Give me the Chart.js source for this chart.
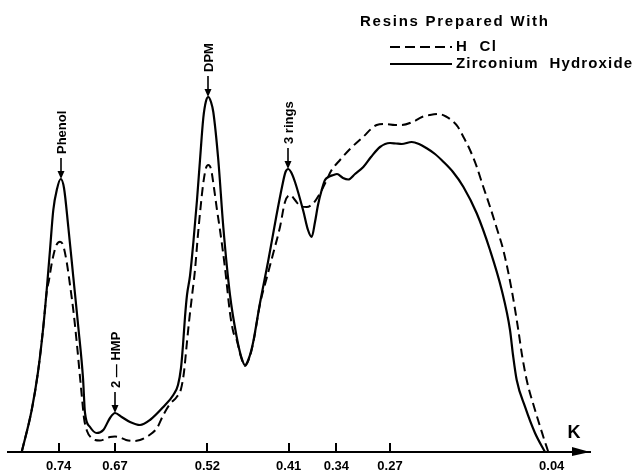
<!DOCTYPE html>
<html>
<head>
<meta charset="utf-8">
<title>Resins prepared with HCl / Zirconium Hydroxide</title>
<script src="https://cdn.jsdelivr.net/npm/chart.js@4.4.1/dist/chart.umd.min.js"></script>
<style>
  html, body { margin: 0; padding: 0; background: #fff; }
  canvas { display: block; }
</style>
</head>
<body>
<canvas id="chromChart" width="635" height="471"></canvas>
<script>
// Elution position along the column (arbitrary units) and K tick labels
const kTickPos = [50.7, 107, 199.3, 280.7, 328.3, 382, 543.7];
const kTickLabels = ['0.74', '0.67', '0.52', '0.41', '0.34', '0.27', '0.04'];
const kTickMarks = [true, true, true, true, true, true, false];

// Zirconium Hydroxide resin (solid line)
const zrPos = [13.7, 23.7, 30, 35.3, 38.7, 42, 45.3, 49, 52.7, 56, 60.3, 65.3, 70.3, 75, 77, 82, 88.7, 95.3,
  102, 107, 113.7, 122, 132, 142, 155.3, 165.3, 170, 173, 175, 177, 179, 182, 185.3, 189, 192, 195.3, 198,
  200.3, 203, 205.3, 210.3, 215.3, 222, 228.7, 233, 237, 241, 245, 252, 260, 268, 274, 277.5, 280.3, 283,
  287, 295.3, 300, 303.7, 307, 310, 313.7, 317, 320.3, 325.3, 329, 335, 340.3, 347, 355.3, 363, 372, 382,
  388, 393.7, 403.7, 411, 418.7, 427, 435.3, 445, 455.3, 468.7, 482, 493.7, 502, 505, 508.7, 517, 527, 537];
const zrResponse = [0, 42, 80, 125, 162, 202, 242, 263, 273, 264, 225, 175, 125, 74, 39, 25, 19, 22,
  34, 39, 35, 30, 27, 32, 45, 57, 67, 84, 107, 135, 157, 176, 209, 252, 292, 334, 351,
  355, 350, 340, 292, 225, 157, 115, 96, 87, 94, 109, 149, 190, 234, 265, 280, 283, 280,
  270, 241, 222, 215, 230, 247, 262, 272, 275, 277, 278, 274, 272.5, 278, 285, 295, 305, 309,
  308.5, 308, 310, 308, 303.7, 298, 290.3, 280, 265.3, 238.7, 202, 162, 122, 97, 72, 45.3, 19, 0];

// HCl resin (dashed line)
const hclPos = [13.7, 23.7, 30, 35.3, 38.7, 41, 44, 48, 52, 55, 58.7, 62, 65.3, 69, 72, 74, 76, 79, 83, 87,
  92, 97, 102, 107, 112, 118, 125, 132, 140, 149, 155.3, 162, 168.7, 173, 176, 178.5, 181, 184, 187, 189.5,
  192, 195.3, 198, 200.3, 203, 206, 209, 212, 217, 222, 225.3, 228.7, 233, 237, 241, 245, 252, 258.7, 265.3,
  272, 277, 282, 287, 292, 298.7, 305.3, 312, 318.7, 323, 332, 342, 355, 368.7, 377, 387, 393.7, 405.3, 414,
  422, 430.3, 438, 445.3, 450, 455.3, 462, 468.7, 475, 482, 489, 495.3, 503.7, 510.3, 514, 518.7, 527, 535.3, 540.3];
const hclResponse = [0, 42, 80, 125, 160, 172, 190, 206, 210.3, 207, 190, 167, 142, 107, 75, 54, 34, 21, 14.5, 12,
  11.5, 13, 15, 15.5, 14.5, 12, 11, 12, 16, 24, 37, 48, 55, 63, 80, 105, 130, 156, 182, 212,
  239, 269, 284, 287, 283, 264, 242, 222, 184, 139, 120, 112, 95, 86, 93, 108, 148, 174, 199,
  225, 250, 257, 252, 246, 245, 248.7, 258.7, 272, 281, 292, 303, 315, 327, 328, 327, 327, 330.3, 335,
  337, 338, 335.5, 330.3, 325, 315.3, 302, 285.3, 266, 245.3, 223, 202, 162, 122, 97, 72, 42, 15.3, 0];

// Peak annotations
const peakNames = ['Phenol', '2 \u2014 HMP', 'DPM', '3 rings'];
const peakPos = [52.7, 107, 200.3, 280.3];
const peakTop = [273, 39, 355, 283];

const seriesNames = ['H  Cl', 'Zirconium  Hydroxide'];
const legendTitle = 'Resins Prepared With';

const FONT = "'Liberation Sans', Arial, sans-serif";

const toPoints = (xs, ys) => xs.map((x, i) => ({ x: x, y: ys[i] }));

// texto con espaciado para llegar al ancho del original
function spacedText(ctx, text, x, y, width) {
    ctx.letterSpacing = '0px';
    const w = ctx.measureText(text).width;
    const extra = Math.max(0, (width - w) / (text.length - 1));
    ctx.letterSpacing = extra.toFixed(2) + 'px';
    ctx.fillText(text, x, y);
    ctx.letterSpacing = '0px';
}

// Ejes, flechas y leyenda dibujados sobre las escalas de Chart.js
const decorPlugin = {
    id: 'decor',
    afterDraw(chart) {
        const ctx = chart.ctx;
        const xs = chart.scales.x;
        const ys = chart.scales.y;
        const base = chart.chartArea.bottom;
        ctx.save();
        ctx.strokeStyle = '#000';
        ctx.fillStyle = '#000';

        // tick marks pointing up into the plot
        ctx.lineWidth = 2;
        kTickPos.forEach((v, i) => {
            if (!kTickMarks[i]) return;
            const px = Math.round(xs.getPixelForValue(v));
            ctx.beginPath();
            ctx.moveTo(px, base);
            ctx.lineTo(px, base - 9);
            ctx.stroke();
        });

        // arrow head at the end of the axis
        const right = chart.chartArea.right;
        ctx.beginPath();
        ctx.moveTo(right - 18, base - 5);
        ctx.lineTo(right, base);
        ctx.lineTo(right - 18, base + 4);
        ctx.closePath();
        ctx.fill();

        ctx.font = 'bold 18px ' + FONT;
        ctx.textAlign = 'center';
        ctx.textBaseline = 'middle';
        ctx.fillText('K', right - 16, base - 19);

        // peak labels with arrows
        ctx.font = 'bold 13px ' + FONT;
        peakNames.forEach((name, i) => {
            const px = Math.round(xs.getPixelForValue(peakPos[i]));
            const tip = ys.getPixelForValue(peakTop[i]);
            ctx.lineWidth = 1.6;
            ctx.beginPath();
            ctx.moveTo(px, tip - 21);
            ctx.lineTo(px, tip - 2);
            ctx.stroke();
            ctx.beginPath();
            ctx.moveTo(px - 3.5, tip - 8);
            ctx.lineTo(px, tip);
            ctx.lineTo(px + 3.5, tip - 8);
            ctx.closePath();
            ctx.fill();
            ctx.save();
            ctx.translate(px, tip - 25);
            ctx.rotate(-Math.PI / 2);
            ctx.textAlign = 'left';
            ctx.textBaseline = 'middle';
            ctx.fillText(name, 0, 1);
            ctx.restore();
        });

        // legend
        ctx.font = 'bold 15px ' + FONT;
        ctx.textAlign = 'left';
        ctx.textBaseline = 'middle';
        spacedText(ctx, legendTitle, 360, 22, 188);
        const rows = [47, 64];
        const widths = [40, 176];
        chart.data.datasets.forEach((ds, i) => {
            ctx.lineWidth = 2;
            ctx.setLineDash(ds.borderDash && ds.borderDash.length ? [10, 5] : []);
            ctx.beginPath();
            ctx.moveTo(390, rows[i]);
            ctx.lineTo(452, rows[i]);
            ctx.stroke();
            ctx.setLineDash([]);
            spacedText(ctx, seriesNames[i], 456, rows[i], widths[i]);
        });
        ctx.restore();
    }
};

const chromChart = new Chart(document.getElementById('chromChart'), {
    type: 'line',
    data: {
        datasets: [{
            label: seriesNames[0],
            data: toPoints(hclPos, hclResponse),
            borderColor: '#000',
            borderWidth: 2,
            borderDash: [9, 5],
            pointRadius: 0,
            cubicInterpolationMode: 'monotone',
            fill: false
        }, {
            label: seriesNames[1],
            data: toPoints(zrPos, zrResponse),
            borderColor: '#000',
            borderWidth: 2.2,
            pointRadius: 0,
            cubicInterpolationMode: 'monotone',
            fill: false
        }]
    },
    options: {
        responsive: false,
        animation: false,
        devicePixelRatio: 1,
        layout: {
            padding: { left: 8, right: 45, top: 0, bottom: 0 }
        },
        plugins: {
            legend: { display: false },
            tooltip: { enabled: false }
        },
        scales: {
            x: {
                type: 'linear',
                min: 0,
                max: 582,
                grid: { display: false, drawTicks: false, tickLength: 0 },
                border: { display: true, color: '#000', width: 2 },
                afterBuildTicks: (scale) => {
                    scale.ticks = kTickPos.map(v => ({ value: v }));
                },
                afterFit: (scale) => {
                    scale.height = 19;
                },
                ticks: {
                    autoSkip: false,
                    maxRotation: 0,
                    padding: 7,
                    color: '#000',
                    font: { family: FONT, size: 13, weight: 'bold' },
                    callback: (value, index) => kTickLabels[index]
                }
            },
            y: {
                type: 'linear',
                display: false,
                min: 0,
                max: 452
            }
        }
    },
    plugins: [decorPlugin]
});
</script>
</body>
</html>
